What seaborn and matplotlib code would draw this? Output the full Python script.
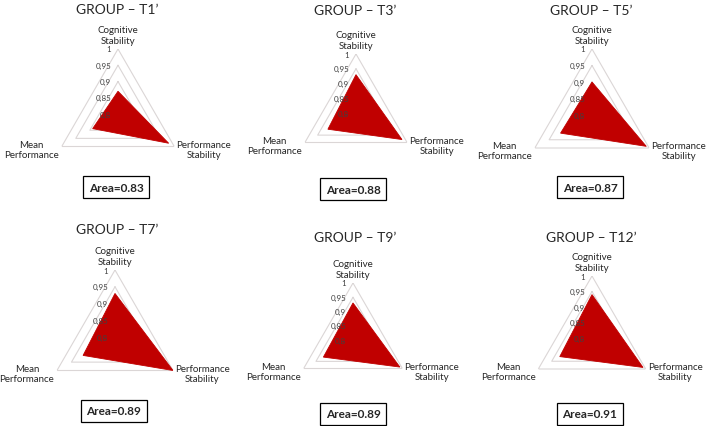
"""Radar (triangle) charts of group scores at six time points."""

import numpy as np
import matplotlib
matplotlib.use("Agg")
import matplotlib.pyplot as plt
import seaborn as sns

sns.set_theme(style="white")
plt.rcParams["font.family"] = ["Lato", "DejaVu Sans"]

groups = ["T1’", "T3’", "T5’", "T7’", "T9’", "T12’"]
dims = ["Cognitive\nStability", "Performance\nStability", "Mean\nPerformance"]
cognitive = [0.87, 0.93, 0.90, 0.93, 0.93, 0.94]
perf_stab = [0.98, 0.98, 0.99, 1.00, 0.99, 0.99]
mean_perf = [0.89, 0.91, 0.91, 0.91, 0.92, 0.92]
areas = [0.83, 0.88, 0.87, 0.89, 0.89, 0.91]
ticks = [0.8, 0.85, 0.9, 0.95, 1.0]
tick_labels = ["0,8", "0,85", "0,9", "0,95", "1"]

# layout in pixels: radar centre x, centre y (from top), radius, title y, area box y
W, H = 708, 427
cx = [118, 356, 592, 115, 353, 592]
cy = [115, 114, 116, 338, 341, 339]
rad = [65, 59, 66, 67, 57, 62]
title_y = [10, 11, 11, 230, 238, 238]
title_x = [117, 355, 591, 117, 355, 591]
box_x = [116, 353, 590, 114, 353, 590]
box_y = [188, 190, 188, 412, 415, 415]

RED = "#c00000"
GRID = "#dbd6d6"

fig = plt.figure(figsize=(W / 100, H / 100))

angles = np.array([0, 2 * np.pi / 3, 4 * np.pi / 3])
closed = np.append(angles, angles[0])

for i, g in enumerate(groups):
    R = rad[i]
    ax = fig.add_axes([(cx[i] - R) / W, 1 - (cy[i] + R) / H, 2 * R / W, 2 * R / H],
                      projection="polar")
    ax.set_theta_offset(np.pi / 2)
    ax.set_theta_direction(-1)

    for lev in ticks[1:]:
        ax.plot(closed, [lev] * 4, color=GRID, lw=0.8, zorder=1)

    vals = [cognitive[i], perf_stab[i], mean_perf[i]]
    ax.fill(closed, vals + vals[:1], color=RED, lw=0.6, zorder=2)

    ax.set_ylim(0.8, 1.0)
    ax.set_xticks([])
    ax.set_yticks([])
    ax.grid(False)
    ax.spines["polar"].set_visible(False)
    ax.patch.set_alpha(0)

    for t, lbl in zip(ticks, tick_labels):
        ax.annotate(lbl, xy=(0, t), xytext=(-5, 0), textcoords="offset points",
                    ha="right", va="center", fontsize=5.8, color="#404040", zorder=5)

    ax.annotate(dims[0], xy=(angles[0], 1.0), xytext=(0, 3), textcoords="offset points",
                ha="center", va="bottom", fontsize=7, multialignment="center")
    ax.annotate(dims[1], xy=(angles[1], 1.0), xytext=(1.5, -2), textcoords="offset points",
                ha="left", va="center", fontsize=7, multialignment="center")
    ax.annotate(dims[2], xy=(angles[2], 1.0), xytext=(-2, -2), textcoords="offset points",
                ha="right", va="center", fontsize=7, multialignment="center")

    fig.text(title_x[i] / W, 1 - title_y[i] / H, f"GROUP – {g}",
             ha="center", va="center", fontsize=10)
    fig.text(box_x[i] / W, 1 - box_y[i] / H, f"Area={areas[i]:.2f}",
             ha="center", va="center", fontsize=8.5, fontweight="bold",
             bbox=dict(boxstyle="square,pad=0.45", fc="white", ec="black", lw=0.9))

fig.savefig("out.png", dpi=100)
plt.close(fig)
